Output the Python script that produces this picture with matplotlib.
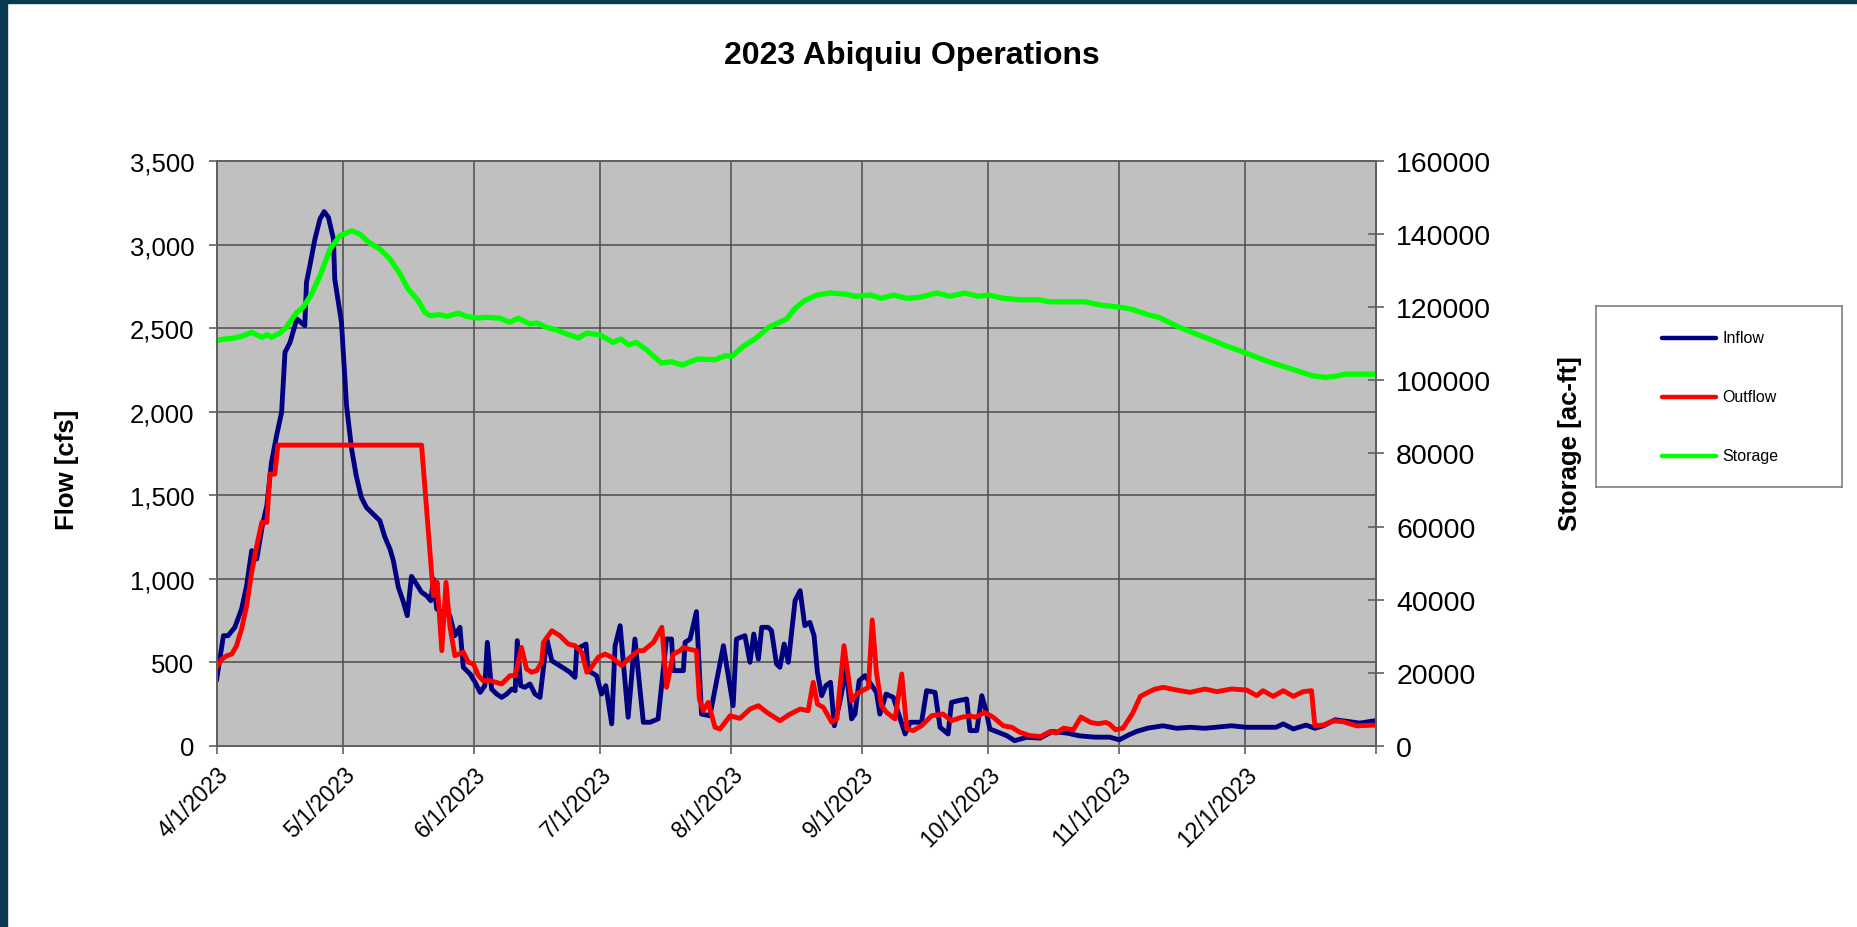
import numpy as np
import pandas as pd
import matplotlib
matplotlib.use("Agg")
import matplotlib.pyplot as plt
import matplotlib.dates as mdates
from matplotlib.ticker import FuncFormatter, MultipleLocator
from matplotlib.patches import Rectangle

plt.rcParams['font.family'] = ['Liberation Sans', 'DejaVu Sans']

# Series: day offset from 4/1/2023 and value
start = pd.Timestamp('2023-04-01')

inflow_day = [
    0, 1.6, 2.7, 4.3, 5.9, 7.1, 8.3, 9.5, 10.9, 11.9,
    13.0, 14.2, 15.4, 16.2, 17.4, 19.0, 20.9, 21.3, 22.1, 23.3,
    24.5, 25.5, 26.5, 27.7, 28.0, 29.6, 30.8, 32.0, 33.1, 34.3,
    35.5, 38.7, 39.9, 41.1, 41.9, 43.1, 44.3, 45.2, 46.2, 47.4,
    48.6, 49.8, 50.8, 51.4, 52.2, 53.5, 55.3, 56.5, 57.7, 58.5,
    60.1, 61.3, 62.5, 63.6, 64.2, 65.2, 66.4, 67.6, 68.8, 70.0,
    70.8, 71.3, 72.1, 73.1, 74.3, 75.5, 76.7, 78.3, 79.5, 81.4,
    82.6, 83.8, 85.0, 85.4, 87.6, 88.1, 90.1, 91.3, 92.3, 93.7,
    94.5, 95.7, 97.6, 99.2, 101.2, 102.8, 104.7, 106.7, 107.9, 108.3,
    110.7, 111.1, 112.3, 113.8, 115.0, 117.0, 120.2, 122.5, 123.3, 125.3,
    126.5, 127.4, 128.5, 129.3, 130.8, 131.6, 132.8, 133.6, 134.6, 135.6,
    137.2, 138.4, 139.5, 140.7, 141.7, 142.5, 143.5, 144.5, 145.6, 146.5,
    147.8, 149.3, 150.6, 151.4, 152.4, 153.8, 156.5, 157.3, 158.8, 160.5,
    163.3, 164.5, 167.2, 168.4, 170.4, 171.6, 173.5, 174.3, 175.9, 177.9,
    178.7, 180.3, 181.5, 182.6, 183.4, 187.4, 189.3, 192.1, 195.3, 198.2,
    201.8, 204.6, 208.2, 211.8, 214.1, 216.4, 218.2, 220.9, 224.5, 227.7,
    230.9, 234.4, 240.7, 244.3, 251.3, 253.0, 255.4, 258.4, 260.5, 262.5,
    265.3, 268.8, 271.2, 274.7]
inflow_cfs = [
    401, 660, 660, 710, 820, 959, 1169, 1119, 1330, 1438,
    1697, 1857, 1997, 2355, 2415, 2555, 2515, 2774, 2874, 3033,
    3153, 3197, 3163, 3033, 2794, 2535, 2036, 1777, 1617, 1488,
    1428, 1348, 1250, 1179, 1109, 949, 860, 780, 1015, 969,
    920, 899, 869, 999, 820, 800, 780, 660, 710, 471,
    431, 381, 321, 361, 620, 341, 311, 291, 311, 341,
    331, 630, 361, 351, 371, 311, 291, 640, 510, 480,
    461, 441, 411, 580, 610, 451, 421, 311, 361, 132,
    600, 720, 172, 640, 142, 142, 162, 640, 640, 451,
    451, 620, 640, 804, 191, 181, 600, 241, 640, 660,
    501, 670, 520, 710, 710, 690, 491, 471, 610, 501,
    870, 929, 720, 740, 660, 441, 301, 361, 381, 121,
    261, 461, 162, 191, 391, 421, 321, 191, 311, 291,
    72, 142, 142, 331, 321, 112, 72, 261, 271, 281,
    92, 92, 301, 201, 102, 62, 32, 52, 47, 87,
    77, 61, 53, 53, 37, 67, 87, 107, 121, 106,
    112, 106, 121, 112, 112, 132, 102, 125, 106, 121,
    157, 145, 137, 151]

outflow_day = [
    0, 1.2, 2.4, 3.6, 4.7, 5.9, 7.1, 8.3, 9.5, 10.7,
    11.9, 12.6, 13.8, 14.5, 48.6, 51.4, 52.3, 53.4, 54.4, 55.3,
    56.5, 58.5, 59.7, 60.9, 62.1, 63.2, 64.8, 67.6, 69.6, 70.8,
    72.3, 73.5, 74.7, 75.9, 77.1, 77.5, 79.5, 81.4, 83.4, 85.0,
    86.6, 87.8, 88.9, 90.5, 92.1, 93.7, 96.1, 97.6, 100.0, 101.2,
    103.6, 105.6, 106.7, 108.3, 109.9, 110.7, 111.9, 113.8, 114.5, 115.4,
    116.6, 118.2, 119.4, 121.8, 124.1, 126.5, 128.5, 130.5, 133.6, 136.0,
    138.4, 140.3, 141.5, 142.5, 143.9, 145.9, 147.1, 148.8, 150.6, 151.8,
    154.6, 155.5, 156.5, 157.7, 158.9, 160.9, 162.5, 163.7, 165.2, 167.2,
    169.6, 172.3, 174.3, 176.7, 178.7, 179.9, 182.2, 184.2, 186.6, 188.6,
    190.5, 192.9, 195.5, 197.7, 199.1, 200.9, 203.2, 205.0, 207.3, 209.1,
    210.9, 211.8, 213.2, 215.0, 217.3, 219.1, 220.9, 222.5, 224.5, 227.7,
    230.9, 234.4, 237.2, 240.7, 244.3, 246.7, 248.2, 250.6, 253.0, 255.4,
    257.7, 259.7, 260.5, 262.5, 264.9, 267.2, 270.4, 274.7]
outflow_cfs = [
    471, 520, 540, 550, 600, 700, 839, 1039, 1198, 1338,
    1338, 1627, 1627, 1800, 1800, 899, 979, 570, 979, 720,
    540, 561, 501, 491, 421, 391, 391, 371, 421, 421,
    590, 461, 441, 451, 501, 620, 690, 660, 610, 600,
    561, 441, 471, 531, 550, 531, 480, 520, 570, 570,
    620, 710, 351, 550, 570, 590, 580, 570, 281, 211,
    261, 112, 102, 181, 165, 221, 241, 201, 151, 191,
    221, 211, 381, 251, 231, 142, 162, 600, 271, 311,
    351, 754, 441, 241, 201, 162, 431, 102, 92, 121,
    181, 191, 151, 172, 181, 172, 201, 172, 121, 112,
    82, 62, 57, 87, 77, 107, 97, 173, 141, 133,
    141, 131, 97, 107, 197, 297, 321, 340, 351, 335,
    321, 341, 325, 341, 335, 301, 331, 297, 331, 297,
    325, 331, 121, 125, 151, 145, 121, 125]

storage_day = [
    0, 1.6, 3.9, 6.3, 8.3, 10.7, 11.9, 13.0, 15.0, 16.6,
    19.0, 20.5, 22.5, 24.5, 26.9, 29.2, 32.0, 34.0, 36.0, 38.7,
    41.1, 43.5, 45.4, 47.8, 49.4, 50.6, 53.0, 54.6, 57.3, 59.3,
    61.7, 64.0, 67.2, 69.5, 71.5, 74.3, 75.9, 78.3, 80.6, 83.0,
    85.8, 87.8, 91.0, 94.0, 95.9, 97.7, 99.5, 101.9, 105.5, 107.9,
    110.4, 114.0, 118.2, 120.7, 122.2, 124.9, 127.9, 130.9, 135.2, 137.0,
    139.4, 142.4, 145.5, 149.1, 151.5, 155.1, 157.6, 160.6, 163.6, 166.6,
    170.9, 173.9, 177.5, 180.6, 183.0, 186.6, 190.3, 195.1, 197.5, 202.3,
    206.0, 209.6, 214.4, 216.9, 221.1, 223.5, 228.4, 235.0, 239.3, 244.1,
    249.5, 255.6, 259.8, 262.9, 265.3, 267.7, 274.4]
storage_acft = [
    110850, 111300, 111500, 112200, 113140, 111770, 112500, 111770, 112950, 114680,
    118600, 120000, 123600, 128600, 135900, 139550, 140900, 140000, 137800, 135900,
    133200, 129100, 125000, 121800, 118600, 117700, 117960, 117500, 118400, 117500,
    117060, 117250, 117000, 115900, 117000, 115400, 115700, 114500, 113800, 112700,
    111600, 112950, 112400, 110400, 111300, 109700, 110400, 108400, 104750, 105100,
    104200, 105840, 105650, 106750, 106580, 109300, 111500, 114500, 116800, 119500,
    121800, 123350, 123900, 123600, 123000, 123350, 122450, 123350, 122450, 122700,
    123900, 123000, 123900, 123000, 123350, 122450, 122060, 122060, 121500, 121500,
    121500, 120600, 120000, 119500, 117900, 117250, 114500, 111500, 109500, 107500,
    105100, 102900, 101300, 100800, 101100, 101700, 101700]

series_names = ['Inflow', 'Outflow', 'Storage']
series_colors = ['#000080', '#FF0000', '#00FF00']


def to_dates(days):
    return start + pd.to_timedelta(np.array(days), unit='D')


W, H = 1857, 928
fig = plt.figure(figsize=(W / 100, H / 100), dpi=100)
fig.patch.set_facecolor('white')

# plot area in pixel units of the reference
left, right, top, bottom = 216.7, 1376, 162, 747
ax = fig.add_axes([left / W, 1 - bottom / H, (right - left) / W, (bottom - top) / H])
ax.set_facecolor('#C0C0C0')
ax2 = ax.twinx()

l1, = ax.plot(to_dates(inflow_day), inflow_cfs, color=series_colors[0], lw=3.5)
l2, = ax.plot(to_dates(outflow_day), outflow_cfs, color=series_colors[1], lw=3.5)
l3, = ax2.plot(to_dates(storage_day), storage_acft, color=series_colors[2], lw=3.8)

ax.set_xlim(pd.Timestamp('2023-04-01'), pd.Timestamp('2024-01-01'))
ax.set_ylim(0, 3500)
ax2.set_ylim(0, 160000)
ax.yaxis.set_major_locator(MultipleLocator(500))
ax.yaxis.set_major_formatter(FuncFormatter(lambda v, p: f'{int(v):,}'))
ax2.yaxis.set_major_locator(MultipleLocator(20000))
ax2.yaxis.set_major_formatter(FuncFormatter(lambda v, p: f'{int(v)}'))

ax.xaxis.set_major_locator(mdates.MonthLocator(bymonthday=1))
ax.xaxis.set_major_formatter(FuncFormatter(
    lambda v, p: (lambda d: f'{d.month}/{d.day}/{d.year}')(mdates.num2date(v))
    if mdates.num2date(v).month != 1 else ''))

ax.grid(True, color='#4d4d4d', lw=1.1)
ax.set_axisbelow(True)

for a in (ax, ax2):
    for s in a.spines.values():
        s.set_color('#606060')
        s.set_linewidth(1.3)

ax.tick_params(axis='y', direction='out', length=6, width=1.2, color='#606060',
               labelsize=18.5, pad=10, labelcolor='black')
ax.tick_params(axis='x', direction='out', length=6, width=1.2, color='#606060',
               labelsize=16.5, pad=6, labelcolor='black')
ax2.tick_params(axis='y', direction='inout', length=11, width=1.2, color='#606060',
                labelsize=20.5, pad=9, labelcolor='black')
for lab in ax.get_xticklabels():
    lab.set_rotation(45)
    lab.set_ha('right')
    lab.set_va('top')
    lab.set_rotation_mode('anchor')

fig.text(912 / W, 1 - 56 / H, '2023 Abiquiu Operations', ha='center', va='center',
         fontsize=23, fontweight='bold')
fig.text(67 / W, 1 - 470 / H, 'Flow [cfs]', ha='center', va='center', rotation=90,
         fontsize=18.5, fontweight='bold')
fig.text(1570 / W, 1 - 444 / H, 'Storage [ac-ft]', ha='center', va='center', rotation=90,
         fontsize=18.5, fontweight='bold')

# legend box
lx0, lx1, ly0, ly1 = 1596, 1842, 307, 488
lax = fig.add_axes([lx0 / W, 1 - ly1 / H, (lx1 - lx0) / W, (ly1 - ly0) / H])
lax.set_xlim(0, lx1 - lx0)
lax.set_ylim(ly1 - ly0, 0)
lax.set_xticks([])
lax.set_yticks([])
for s in lax.spines.values():
    s.set_color('#808080')
    s.set_linewidth(1.2)
for i, (name, line) in enumerate(zip(series_names, [l1, l2, l3])):
    yy = 32 + i * 59
    lax.plot([66, 120], [yy, yy], color=line.get_color(), lw=3.2, solid_capstyle='round')
    lax.text(126, yy, name, fontsize=11.5, va='center', ha='left')

# dark frame on top and left edge
fig.patches.append(Rectangle((0, 1 - 4 / H), 1, 4 / H, transform=fig.transFigure,
                             color='#0a3a50', zorder=10))
fig.patches.append(Rectangle((0, 0), 7 / W, 1, transform=fig.transFigure,
                             color='#0a3a50', zorder=10))

fig.savefig('out.png', dpi=100)
